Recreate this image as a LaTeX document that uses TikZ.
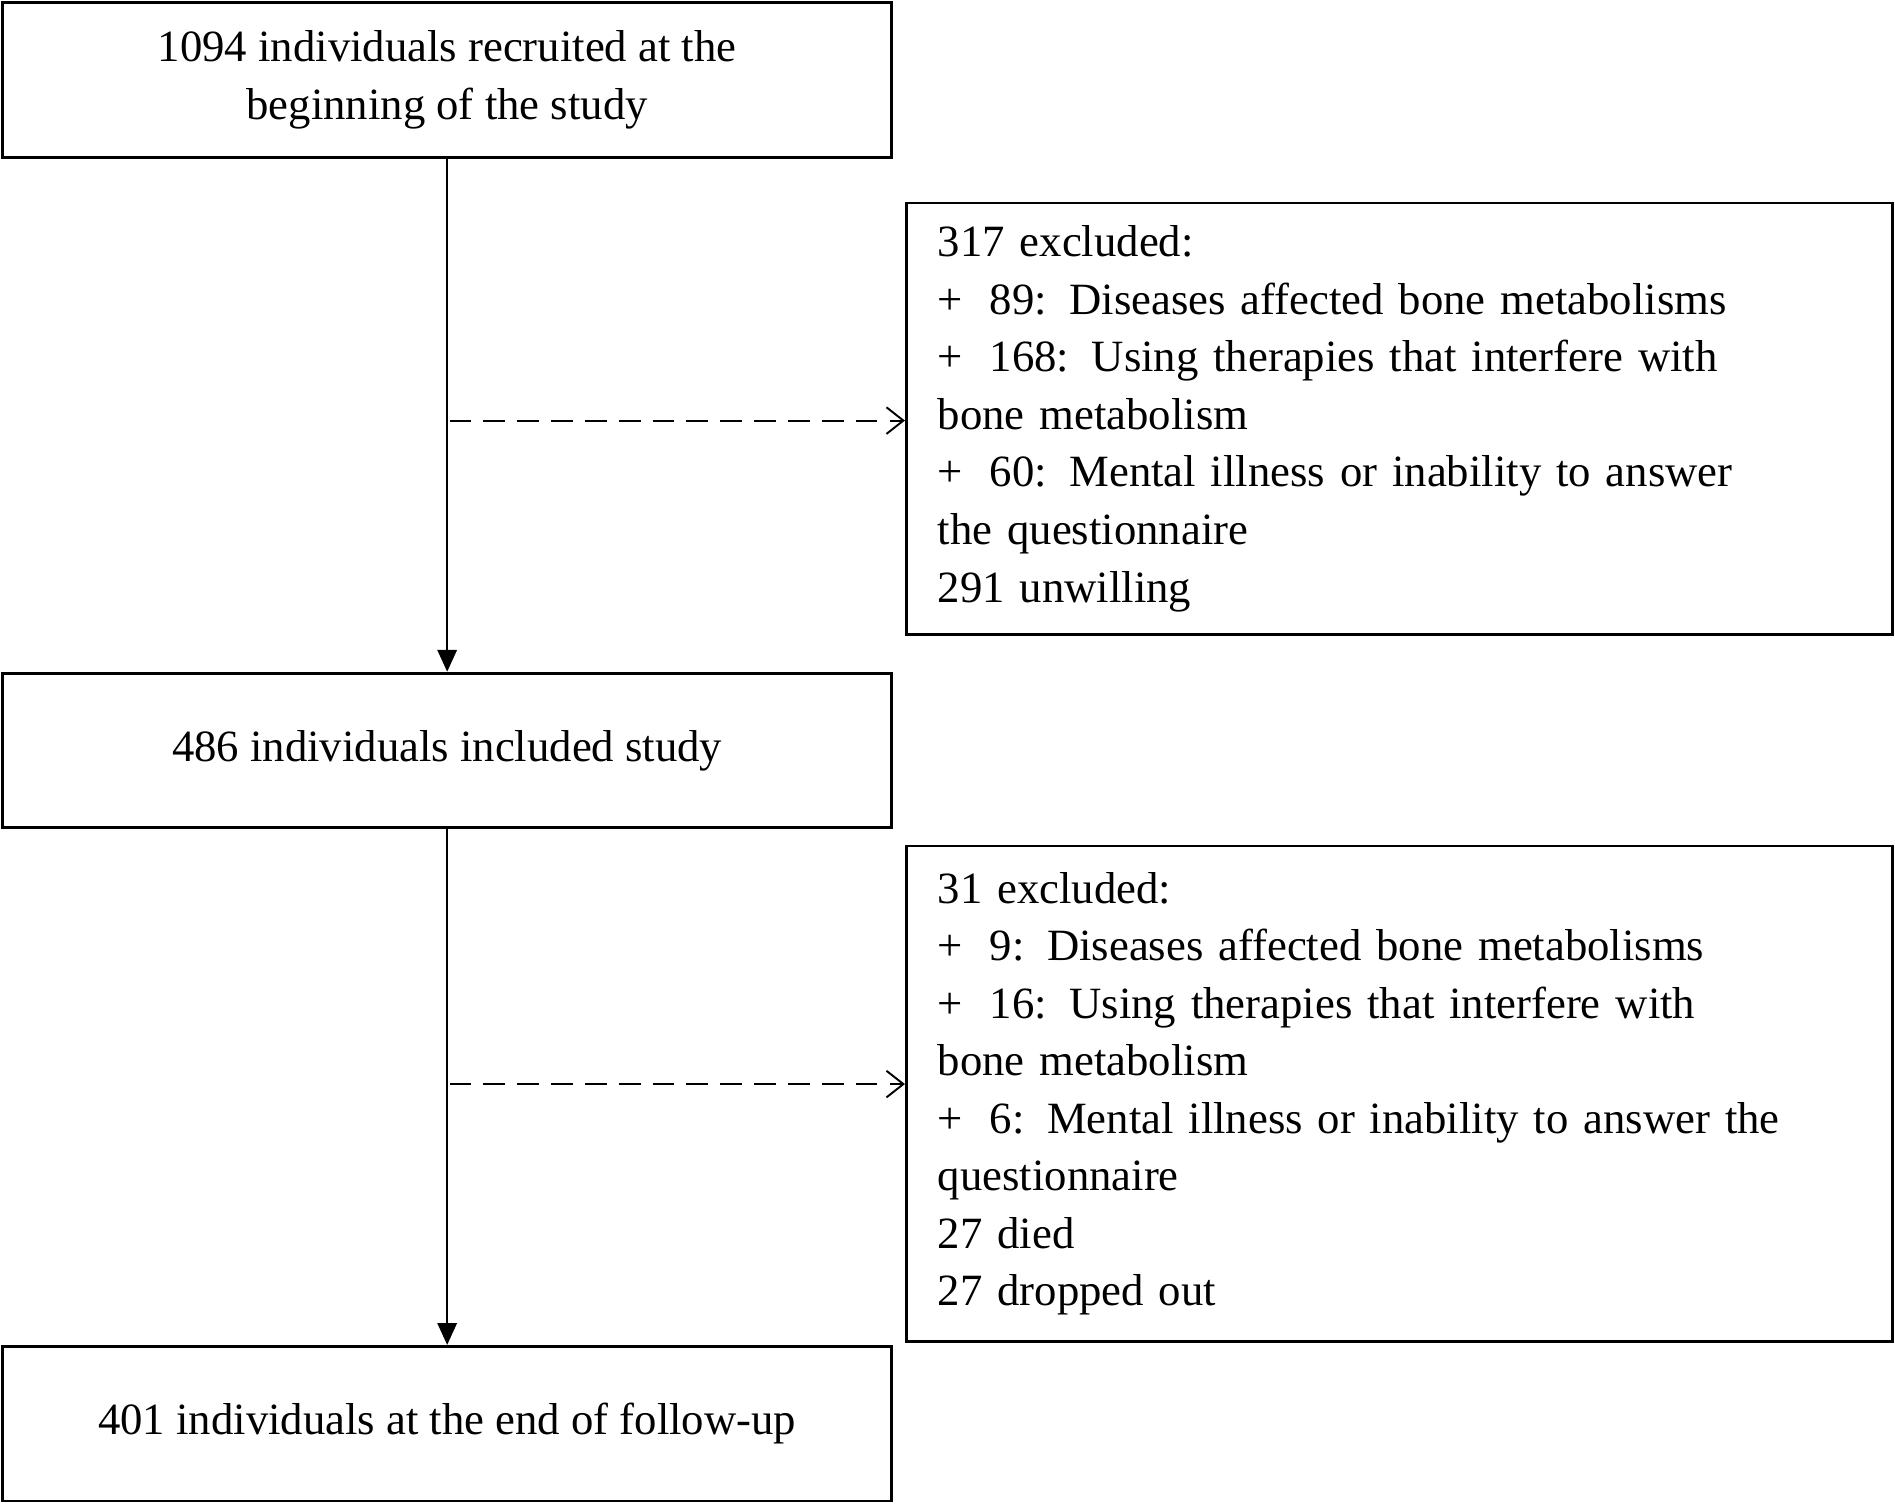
\documentclass[tikz,border=0pt]{standalone}
\usepackage{fontspec}
\setmainfont{Liberation Serif}
\usetikzlibrary{arrows.meta}
\begin{document}
\begin{tikzpicture}[x=0.5pt,y=-0.5pt,
  mbox/.style={draw,line width=1.2pt,inner sep=0pt,font=\fontsize{18.5}{24}\selectfont,align=center},
  rbox/.style={draw,line width=1.2pt,inner sep=0pt,font=\fontsize{18.5}{23.8}\selectfont,align=left,text width=382pt},
  solid arrow/.style={line width=0.8pt,-{Triangle[length=9pt,width=8pt]}},
  dash arrow/.style={line width=0.8pt,dash pattern=on 9pt off 5pt,-{Straight Barb[length=7pt,width=11pt]}}]
\useasboundingbox (0,0) rectangle (1568,1244);
\node[mbox,minimum width=368pt,minimum height=64pt] (a) at (370,66) {1094 individuals recruited at the\\beginning of the study};
\node[mbox,minimum width=368pt,minimum height=64pt] (b) at (370,621) {486 individuals included study};
\node[mbox,minimum width=368pt,minimum height=64pt] (c) at (370,1178) {401 individuals at the end of follow-up};
\node[rbox,minimum width=408pt,minimum height=178.5pt] (r1) at (1158,346.5) {317 excluded:\\
+\hspace{0.6em}89:\hspace{0.5em}Diseases affected bone metabolisms\\
+\hspace{0.6em}168: Using therapies that interfere with\\
bone metabolism\\
+\hspace{0.6em}60:\hspace{0.5em}Mental illness or inability to answer\\
the questionnaire\\
291 unwilling};
\node[rbox,minimum width=408pt,minimum height=205pt] (r2) at (1158,905) {31 excluded:\\
+\hspace{0.6em}9: Diseases affected bone metabolisms\\
+\hspace{0.6em}16: Using therapies that interfere with\\
bone metabolism\\
+\hspace{0.6em}6: Mental illness or inability to answer the\\
questionnaire\\
27 died\\
27 dropped out};
\draw[solid arrow] (a) -- (b);
\draw[solid arrow] (b) -- (c);
\coordinate (d1) at (372,348);
\coordinate (d2) at (372,897);
\draw[dash arrow] (d1) -- (d1 -| r1.west);
\draw[dash arrow] (d2) -- (d2 -| r2.west);
\end{tikzpicture}
\end{document}
